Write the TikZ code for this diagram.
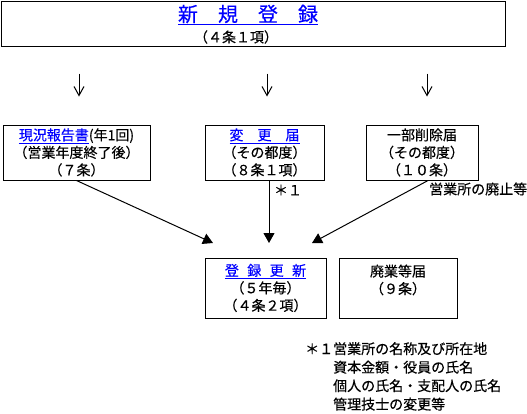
\documentclass[tikz,border=0pt]{standalone}
\usepackage{fontspec}
\setmainfont{Noto Sans CJK JP}[FakeBold=0.4]
\usetikzlibrary{arrows.meta,positioning,calc}

\newcommand{\bluelink}[1]{\textcolor{blue}{\underline{#1}}}

\begin{document}
\begin{tikzpicture}[x=1pt,y=-1pt,
  box/.style={draw,line width=1pt,align=center,inner sep=0pt,
              font=\fontsize{14}{17.5}\selectfont},
  label/.style={font=\fontsize{14}{17.5}\selectfont,inner sep=0pt},
  title/.style={font=\fontsize{20}{22}\selectfont,inner sep=0pt},
  down/.style={line width=1pt,-{Straight Barb[length=9pt,width=10pt]},
               shorten <=27pt,shorten >=28pt},
  feed/.style={line width=1pt,-{Triangle[length=10pt,width=11pt]}}
]
  \useasboundingbox (0,0) rectangle (527,413);

  % registration
  \node[draw,line width=1pt,minimum width=504pt,minimum height=45pt] (reg) at (253,23.5) {};
  \node[title] (regtitle) at (248,15) {\bluelink{新　規　登　録}};
  \node[label] (regart) at (236,37) {（４条１項）};

  % reports and notices
  \node[box,minimum width=147pt,minimum height=55pt] (report) at (76.5,152.5)
    {\bluelink{現況報告書}(年1回)\\（営業年度終了後）\\（７条）};
  \node[box,minimum width=119pt,minimum height=55pt] (change) at (264.5,152.5)
    {\bluelink{変　更　届}\\（その都度）\\（８条１項）};
  \node[box,minimum width=112pt,minimum height=55pt] (partdel) at (422,152.5)
    {一部削除届\\（その都度）\\（１０条）};

  \coordinate (c1) at (79,0);
  \coordinate (c2) at (267,0);
  \coordinate (c3) at (427,0);
  \draw[down] (reg.south -| c1) -- (report.north -| c1);
  \draw[down] (reg.south -| c2) -- (change.north -| c2);
  \draw[down] (reg.south -| c3) -- (partdel.north -| c3);

  % renewal
  \node[box,minimum width=121pt,minimum height=60pt] (renew) at (265.5,288)
    {\bluelink{登\hspace{.6em}録\hspace{.6em}更\hspace{.6em}新}\\（５年毎）\\（４条２項）};
  \node[box,minimum width=118pt,minimum height=60pt] (closing) at (398,288)
    {廃業等届\\（９条）\\\mbox{}};

  \coordinate (t1) at (213,243);
  \coordinate (t2) at (269,243);
  \coordinate (t3) at (312,243);
  \draw[feed] (report.south) -- (t1);
  \draw[feed] (change.south -| t2) -- (t2);
  \draw[feed] ([xshift=6pt]partdel.south) -- (t3);
  \node[label] (mark) at (288,190) {＊１};
  \node[label,anchor=west] (abolish) at (429,189) {営業所の廃止等};

  % footnote
  \node[label,anchor=north west,align=left,font=\fontsize{14}{18.5}\selectfont] (fn) at (305,342)
    {＊１営業所の名称及び所在地\\　　資本金額・役員の氏名\\　　個人の氏名・支配人の氏名\\　　管理技士の変更等};
\end{tikzpicture}
\end{document}
